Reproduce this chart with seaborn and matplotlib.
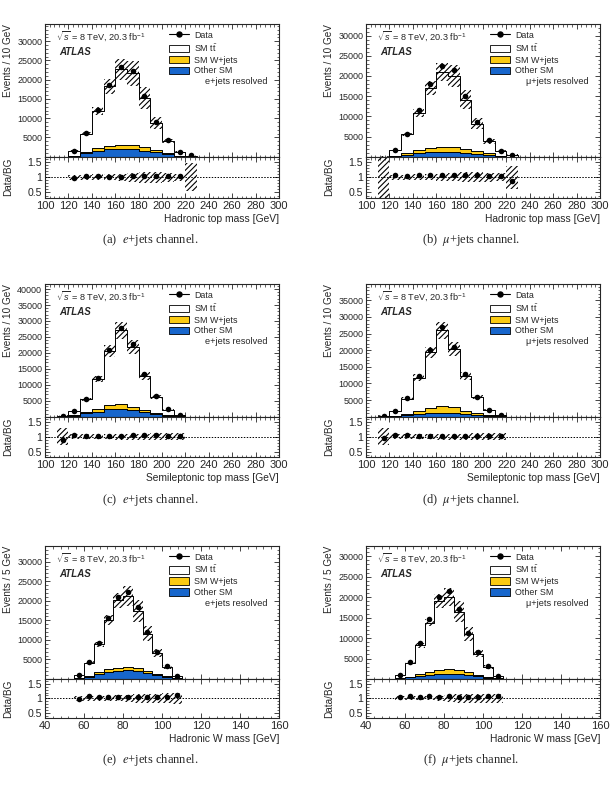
import numpy as np
import pandas as pd
import matplotlib.pyplot as plt
import seaborn as sns
from matplotlib.lines import Line2D
from matplotlib.patches import Patch
from matplotlib.ticker import MultipleLocator, AutoMinorLocator

sns.set_style("ticks")
plt.rcParams["font.family"] = ["Liberation Sans", "DejaVu Sans"]
plt.rcParams["mathtext.fontset"] = "custom"
plt.rcParams["mathtext.rm"] = "Liberation Sans"
plt.rcParams["mathtext.it"] = "Liberation Sans:italic"
plt.rcParams["mathtext.bf"] = "Liberation Sans:bold"
plt.rcParams["hatch.linewidth"] = 0.8
plt.rcParams["axes.linewidth"] = 0.8

# (a) e+jets, hadronic top mass
edges_a = [120, 130, 140, 150, 160, 170, 180, 190, 200, 210, 220, 230]
data_a = [1500, 6200, 12200, 18600, 23200, 22300, 15700, 8900, 4300, 1300, 400]
tt_a = [1250, 4720, 9600, 15390, 19650, 18650, 12840, 6840, 3150, 970, 70]
wj_a = [150, 440, 770, 950, 1100, 1100, 850, 680, 350, 100, 20]
oth_a = [150, 860, 1470, 1900, 2000, 1900, 1550, 1120, 600, 200, 30]
unc_a = [0.08, 0.08, 0.09, 0.10, 0.12, 0.15, 0.18, 0.18, 0.15, 0.12, 0.45]

# (b) mu+jets, hadronic top mass
edges_b = [110, 120, 130, 140, 150, 160, 170, 180, 190, 200, 210, 220, 230]
data_b = [np.nan, 1720, 5740, 11560, 18030, 22460, 21390, 15160, 8610, 4020, 1480, 400]
tt_b = [20, 1360, 4700, 9190, 14800, 18530, 17610, 12280, 6730, 3010, 1190, 420]
wj_b = [5, 170, 330, 820, 1140, 1230, 1230, 990, 730, 410, 170, 20]
oth_b = [5, 80, 490, 900, 1070, 1230, 1150, 900, 660, 410, 80, 10]
unc_b = [1.0, 0.08, 0.08, 0.09, 0.10, 0.11, 0.14, 0.17, 0.17, 0.15, 0.13, 0.37]

# (c) e+jets, semileptonic top mass
edges_c = [110, 120, 130, 140, 150, 160, 170, 180, 190, 200, 210, 220]
data_c = [300, 1770, 5510, 12270, 20900, 27860, 22770, 13510, 6440, 2290, 420]
tt_c = [290, 1130, 4050, 9620, 16850, 23100, 18770, 10790, 5050, 1700, 330]
wj_c = [20, 210, 310, 830, 1250, 1460, 940, 730, 200, 210, 30]
oth_c = [30, 310, 1040, 1460, 2390, 2490, 2180, 1350, 940, 310, 50]
unc_c = [0.28, 0.09, 0.08, 0.08, 0.09, 0.10, 0.10, 0.10, 0.11, 0.11, 0.12]

# (d) mu+jets, semileptonic top mass
edges_d = [110, 120, 130, 140, 150, 160, 170, 180, 190, 200, 210, 220]
data_d = [300, 1800, 5700, 12100, 20100, 27000, 21000, 12800, 6000, 2100, 400]
tt_d = [296, 1400, 4630, 9950, 16630, 22760, 17590, 10610, 4830, 1640, 290]
wj_d = [10, 200, 300, 1000, 1700, 2000, 1700, 900, 500, 200, 50]
oth_d = [10, 100, 500, 800, 1000, 1200, 1100, 800, 500, 200, 50]
unc_d = [0.28, 0.08, 0.08, 0.08, 0.09, 0.10, 0.10, 0.10, 0.11, 0.11, 0.12]

# (e) e+jets, hadronic W mass
edges_e = [55, 60, 65, 70, 75, 80, 85, 90, 95, 100, 105, 110]
data_e = [1020, 4440, 9300, 15700, 20900, 22180, 18350, 12030, 6830, 3330, 770]
tt_e = [790, 3300, 7150, 12540, 17200, 18170, 14580, 9440, 5200, 2460, 430]
wj_e = [90, 250, 520, 770, 770, 860, 770, 510, 350, 170, 80]
oth_e = [170, 600, 1190, 1790, 2130, 2300, 2130, 1620, 1020, 510, 170]
unc_e = [0.08, 0.08, 0.08, 0.08, 0.10, 0.12, 0.16, 0.16, 0.16, 0.17, 0.18]

# (f) mu+jets, hadronic W mass
edges_f = [55, 60, 65, 70, 75, 80, 85, 90, 95, 100, 105, 110]
data_f = [970, 4140, 8690, 14770, 20130, 21430, 17130, 11360, 6570, 3080, 810]
tt_f = [690, 3260, 7060, 12010, 16800, 17600, 14280, 9330, 5140, 2390, 580]
wj_f = [80, 170, 410, 730, 970, 1130, 970, 730, 410, 170, 80]
oth_f = [160, 400, 730, 1060, 1220, 1300, 1220, 970, 650, 320, 80]
unc_f = [0.07, 0.07, 0.07, 0.07, 0.09, 0.11, 0.15, 0.15, 0.15, 0.15, 0.15]

WJ_COLOR = "#fbcb14"
OTH_COLOR = "#1766cc"
HATCH = "//////"
W, H = 615, 789


def px_axes(fig, left, right, top, bottom):
    return fig.add_axes([left / W, 1 - bottom / H, (right - left) / W, (bottom - top) / H])


def draw_panel(fig, left, top, mid, bot, edges, data, tt, wj, oth, unc,
               xlim, xlabel, ylabel, ymax, channel, caption, cap_x, cap_y):
    right = left + 234
    edges = np.asarray(edges, float)
    centers = 0.5 * (edges[:-1] + edges[1:])
    widths = np.diff(edges)
    data = np.asarray(data, float)
    tt, wj, oth, unc = (np.asarray(v, float) for v in (tt, wj, oth, unc))
    total = tt + wj + oth

    ax = px_axes(fig, left, right, top, mid)
    rax = px_axes(fig, left, right, mid, bot)

    # stacked backgrounds, back to front
    for vals, col in [(total, "white"), (wj + oth, WJ_COLOR), (oth, OTH_COLOR)]:
        df = pd.DataFrame({"mass": centers, "events": vals})
        sns.histplot(data=df, x="mass", weights="events", bins=edges.tolist(),
                     element="step", fill=True, color=col, alpha=1,
                     edgecolor="black", linewidth=0.7, ax=ax)
    ax.bar(centers, 2 * total * unc, bottom=total * (1 - unc), width=widths, fill=False,
           hatch=HATCH, edgecolor="black", linewidth=0, zorder=3)
    mask = ~np.isnan(data)
    sns.scatterplot(x=centers[mask], y=data[mask], color="black", s=16, linewidth=0,
                    ax=ax, zorder=4)

    # ratio
    ratio = data / total
    rax.bar(centers, 2 * unc, bottom=1 - unc, width=widths, fill=False,
            hatch=HATCH, edgecolor="black", linewidth=0, zorder=2)
    rax.axhline(1, ls=(0, (1.5, 1.5)), color="black", lw=0.7, zorder=1)
    sns.scatterplot(x=centers[mask], y=ratio[mask], color="black", s=16, linewidth=0,
                    ax=rax, zorder=4)

    for a in (ax, rax):
        a.set_xlim(xlim)
        a.xaxis.set_major_locator(MultipleLocator(20))
        a.xaxis.set_minor_locator(AutoMinorLocator(5))
        a.tick_params(which="both", direction="in", top=True, right=True)
        a.tick_params(which="major", length=3.5, width=0.6)
        a.tick_params(which="minor", length=1.8, width=0.5)
        a.set_xlabel("")
        a.set_ylabel("")

    ax.set_ylim(0, ymax)
    ax.set_yticks(np.arange(5000, ymax, 5000))
    ax.yaxis.set_minor_locator(MultipleLocator(1000))
    ax.tick_params(labelbottom=False)
    ax.tick_params(axis="y", labelsize=6.5, pad=2)

    rax.set_ylim(0.33, 1.67)
    rax.set_yticks([0.5, 1, 1.5], ["0.5", "1", "1.5"])
    rax.yaxis.set_minor_locator(MultipleLocator(0.1))
    rax.tick_params(axis="y", labelsize=7.6, pad=2)
    rax.tick_params(axis="x", labelsize=8, pad=2.5)

    ax.set_ylabel(ylabel, loc="top", fontsize=7.2)
    ax.yaxis.set_label_coords(-0.137, 1.0)
    rax.set_ylabel("Data/BG", fontsize=7.2)
    rax.yaxis.set_label_coords(-0.137, 0.5)
    rax.set_xlabel(xlabel, loc="right", fontsize=7.4)
    rax.xaxis.set_label_coords(1.0, -16 / (bot - mid))

    ax.text(0.047, 0.91, r"$\sqrt{s}$ = 8 TeV, 20.3 fb$^{-1}$", transform=ax.transAxes,
            ha="left", va="center", fontsize=6.6)
    ax.text(0.06, 0.79, "ATLAS", transform=ax.transAxes, ha="left", va="center",
            fontsize=7, fontweight="bold", fontstyle="italic")
    ax.text(0.95, 0.565, channel, transform=ax.transAxes, ha="right", va="center",
            fontsize=6.6)

    handles = [Line2D([], [], color="black", marker="o", ms=3.6, lw=0.8),
               Patch(facecolor="white", edgecolor="black", lw=0.6),
               Patch(facecolor=WJ_COLOR, edgecolor="black", lw=0.6),
               Patch(facecolor=OTH_COLOR, edgecolor="black", lw=0.6)]
    labels = ["Data", r"SM $\mathrm{t\bar{t}}$", "SM W+jets", "Other SM"]
    ax.legend(handles, labels, loc="upper left", bbox_to_anchor=(0.53, 0.95),
              frameon=False, fontsize=6.4, handlelength=2.3, handleheight=0.95,
              handletextpad=0.5, labelspacing=0.22, borderpad=0, borderaxespad=0)

    fig.text(cap_x / W, 1 - cap_y / H, caption, ha="center", va="center",
             family="Liberation Serif", math_fontfamily="stix", fontsize=9)


fig = plt.figure(figsize=(W / 100, H / 100), dpi=100)

rows = [(24.3, 156.7, 197.7, 240), (284.3, 416.7, 456.7, 500), (546, 679, 717.7, 760)]
cols = [(45, 150), (366, 471)]

panels = [
    (0, 0, edges_a, data_a, tt_a, wj_a, oth_a, unc_a, (100, 300), "Hadronic top mass [GeV]",
     "Events / 10 GeV", 34400, "e+jets resolved", r"(a)  $e$+jets channel."),
    (0, 1, edges_b, data_b, tt_b, wj_b, oth_b, unc_b, (100, 300), "Hadronic top mass [GeV]",
     "Events / 10 GeV", 32800, "\u03bc+jets resolved", r"(b)  $\mu$+jets channel."),
    (1, 0, edges_c, data_c, tt_c, wj_c, oth_c, unc_c, (100, 300), "Semileptonic top mass [GeV]",
     "Events / 10 GeV", 41500, "e+jets resolved", r"(c)  $e$+jets channel."),
    (1, 1, edges_d, data_d, tt_d, wj_d, oth_d, unc_d, (100, 300), "Semileptonic top mass [GeV]",
     "Events / 10 GeV", 39800, "\u03bc+jets resolved", r"(d)  $\mu$+jets channel."),
    (2, 0, edges_e, data_e, tt_e, wj_e, oth_e, unc_e, (40, 160), "Hadronic W mass [GeV]",
     "Events / 5 GeV", 34000, "e+jets resolved", r"(e)  $e$+jets channel."),
    (2, 1, edges_f, data_f, tt_f, wj_f, oth_f, unc_f, (40, 160), "Hadronic W mass [GeV]",
     "Events / 5 GeV", 32500, "\u03bc+jets resolved", r"(f)  $\mu$+jets channel."),
]

for r, c, edges, data, tt, wj, oth, unc, xlim, xlabel, ylabel, ymax, channel, caption in panels:
    top, mid, bot, cap_y = rows[r]
    left, cap_x = cols[c]
    draw_panel(fig, left, top, mid, bot, edges, data, tt, wj, oth, unc,
               xlim, xlabel, ylabel, ymax, channel, caption, cap_x, cap_y)

fig.savefig("out.png", dpi=100)
plt.close(fig)
